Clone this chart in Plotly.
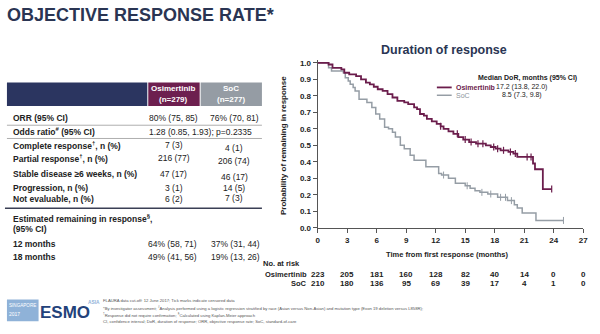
import numpy as np
import plotly.graph_objects as go

W, H = 600, 334
FONT = "Liberation Sans, Arial, sans-serif"
NAVY = "#2b3560"
PURPLE = "#6d1f4f"
GRAY_HDR = "#959ca4"
TXT = "#222222"
OSI_C = "#6b1d4c"
SOC_C = "#959da5"

# ---------------- data ----------------
title = "OBJECTIVE RESPONSE RATE*"
arms = ["Osimertinib", "SoC"]
arm_n = ["(n=279)", "(n=277)"]
row_labels = ["ORR (95% CI)", "Odds ratio<sup>#</sup> (95% CI)",
              "Complete response<sup>†</sup>, n (%)", "Partial response<sup>†</sup>, n (%)",
              "Stable disease ≥6 weeks, n (%)", "Progression, n (%)", "Not evaluable, n (%)"]
osi_vals = ["80% (75, 85)", "", "7 (3)", "216 (77)", "47 (17)", "3 (1)", "6 (2)"]
soc_vals = ["76% (70, 81)", "", "4 (1)", "206 (74)", "46 (17)", "14 (5)", "7 (3)"]
odds_ratio_text = "1.28 (0.85, 1.93); p=0.2335"
remain_label = ["Estimated remaining in response<sup>§</sup>,", "(95% CI)"]
remain_rows = ["12 months", "18 months"]
remain_osi = ["64% (58, 71)", "49% (41, 56)"]
remain_soc = ["37% (31, 44)", "19% (13, 26)"]

km_title = "Duration of response"
legend_head = "Median DoR, months (95% CI)"
median_text = ["17.2 (13.8, 22.0)", "8.5 (7.3, 9.8)"]

osi_t = [0, 1.1, 1.5, 2.4, 2.7, 3.2, 3.9, 4.4, 4.9, 5.3, 5.7, 6.1, 6.6, 7.1, 7.6, 8.1,
         8.8, 9.2, 9.8, 10.1, 10.4, 10.8, 11.1, 11.6, 12.1, 12.5, 12.8, 13.3, 13.8,
         14.3, 14.8, 15.4, 16.1, 17.1, 17.6, 18.1, 18.6, 19.4, 19.9, 20.3, 21.9, 22.1,
         22.9, 23.8]
osi_p = [1.0, 0.99, 0.97, 0.96, 0.94, 0.93, 0.92, 0.90, 0.88, 0.87, 0.855, 0.84, 0.83,
         0.81, 0.79, 0.77, 0.76, 0.75, 0.73, 0.72, 0.69, 0.68, 0.66, 0.645, 0.63, 0.615,
         0.60, 0.585, 0.57, 0.55, 0.535, 0.52, 0.51, 0.50, 0.49, 0.48, 0.47, 0.46, 0.45,
         0.43, 0.39, 0.355, 0.235, 0.235]
soc_t = [0, 1.1, 1.4, 2.6, 2.8, 3.1, 3.3, 3.6, 3.8, 4.2, 5.0, 5.5, 5.9, 6.3, 6.8, 7.2,
         7.6, 7.9, 8.4, 8.8, 9.4, 9.8, 11.0, 12.3, 12.6, 13.3, 14.0, 15.0, 15.5, 16.0,
         16.5, 17.3, 18.3, 19.3, 20.0, 20.3, 20.8, 22.2, 25.0]
soc_p = [1.0, 0.97, 0.95, 0.94, 0.91, 0.89, 0.87, 0.85, 0.83, 0.78, 0.76, 0.73, 0.69,
         0.66, 0.61, 0.60, 0.58, 0.55, 0.50, 0.48, 0.44, 0.41, 0.37, 0.33, 0.32, 0.30,
         0.27, 0.255, 0.24, 0.225, 0.215, 0.205, 0.185, 0.165, 0.14, 0.12, 0.09, 0.045,
         0.045]
osi_cens = [12.5, 14.2, 15.0, 15.6, 16.3, 16.8, 17.9, 18.3, 18.9, 19.6, 20.1, 21.3, 21.7, 23.8]
soc_cens = [12.8, 15.2, 16.7, 17.6, 18.6, 19.1, 19.7, 25.0]

x_ticks = [0, 3, 6, 9, 12, 15, 18, 21, 24, 27]
y_ticks = [0.0, 0.1, 0.2, 0.3, 0.4, 0.5, 0.6, 0.7, 0.8, 0.9, 1.0]
x_title = "Time from first response (months)"
y_title = "Probability of remaining in response"
risk_times = [0, 3, 6, 9, 12, 15, 18, 21, 24, 27]
osi_risk = [223, 205, 181, 160, 128, 82, 40, 14, 0, 0]
soc_risk = [210, 180, 136, 95, 69, 39, 17, 4, 1, 0]

footnotes = [
    "FLAURA data cut-off: 12 June 2017; Tick marks indicate censored data",
    "*By investigator assessment; <sup>#</sup>Analysis performed using a logistic regression stratified by race (Asian versus Non-Asian) and mutation type (Exon 19 deletion versus L858R);",
    "<sup>†</sup>Response did not require confirmation; <sup>§</sup>Calculated using Kaplan-Meier approach",
    "CI, confidence interval; DoR, duration of response; ORR, objective response rate; SoC, standard-of-care",
]


def px(x):
    return x / W


def py(y):
    return 1 - y / H


def step_at(ts, ps, t):
    ts = np.asarray(ts)
    ps = np.asarray(ps)
    i = np.searchsorted(ts, t, side="right") - 1
    return ps[i]


fig = go.Figure()

fig.add_trace(go.Scatter(x=soc_t, y=soc_p, mode="lines", line_shape="hv",
                         line=dict(color=SOC_C, width=1.5), showlegend=False, hoverinfo="skip"))
fig.add_trace(go.Scatter(x=osi_t, y=osi_p, mode="lines", line_shape="hv",
                         line=dict(color=OSI_C, width=1.8), showlegend=False, hoverinfo="skip"))
fig.add_trace(go.Scatter(x=soc_cens, y=[step_at(soc_t, soc_p, t) for t in soc_cens], mode="markers",
                         marker=dict(symbol="line-ns", size=5, line=dict(width=1, color=SOC_C)),
                         showlegend=False, hoverinfo="skip", cliponaxis=False))
fig.add_trace(go.Scatter(x=osi_cens, y=[step_at(osi_t, osi_p, t) for t in osi_cens], mode="markers",
                         marker=dict(symbol="line-ns", size=5, line=dict(width=1.2, color=OSI_C)),
                         showlegend=False, hoverinfo="skip", cliponaxis=False))

annotations = []


def txt(s, x, y, size=9, color=TXT, bold=False, anchor="left", yanchor="middle",
        xref="paper", angle=0, family=FONT):
    annotations.append(dict(
        text=f"<b>{s}</b>" if bold else s,
        x=px(x) if xref == "paper" else x, y=py(y), xref=xref, yref="paper",
        xanchor=anchor, yanchor=yanchor, showarrow=False, textangle=angle,
        font=dict(size=size, color=color, family=family), borderpad=0))


shapes = []


def rect(x0, y0, x1, y1, color):
    shapes.append(dict(type="rect", xref="paper", yref="paper", x0=px(x0), x1=px(x1),
                       y0=py(y1), y1=py(y0), fillcolor=color, line=dict(width=0), layer="below"))


def hline(x0, x1, y, color, width):
    shapes.append(dict(type="line", xref="paper", yref="paper", x0=px(x0), x1=px(x1),
                       y0=py(y), y1=py(y), line=dict(color=color, width=width)))


# ---------- title ----------
txt(title, 4, 14, size=18, color="#2a3553", bold=True)

# ---------- table ----------
rect(5, 83, 147, 107, NAVY)
rect(148, 83, 200, 107, PURPLE)
rect(201, 83, 263, 107, GRAY_HDR)
col_x = [174, 232]
for i, (a, n) in enumerate(zip(arms, arm_n)):
    txt(a, col_x[i], 89, size=8, color="white", bold=True, anchor="center")
    txt(n, col_x[i], 100, size=8, color="white", bold=True, anchor="center")

row_y = [119, 133, 147, 160, 176, 190, 202]
soc_dy = [0, 0, 3, 3, 3, 0, -1]
for lab, ov, sv, y, dy in zip(row_labels, osi_vals, soc_vals, row_y, soc_dy):
    txt(lab, 10, y, size=8.5, bold=True)
    if ov:
        txt(ov, 174, y, size=8.5, anchor="center")
    if sv:
        txt(sv, 235, y + dy, size=8.5, anchor="center")
txt(odds_ratio_text, 201, row_y[1], size=8.5, anchor="center")
hline(5, 263, 126.5, "#9a9a9a", 0.8)
hline(5, 263, 140, "#9a9a9a", 0.8)
hline(3, 263, 211, "#3a3f55", 1.6)

txt(remain_label[0], 10, 221, size=8.5, bold=True)
txt(remain_label[1], 10, 232, size=8.5, bold=True)
for lab, ov, sv, y in zip(remain_rows, remain_osi, remain_soc, [247, 261]):
    txt(lab, 10, y, size=8.5, bold=True)
    txt(ov, 173, y, size=8.5, anchor="center")
    txt(sv, 236, y, size=8.5, anchor="center")

# ---------- KM titles / legend ----------
txt(km_title, 447, 50, size=12.5, color="#2a3553", bold=True, anchor="center")
txt(y_title, 285, 147, size=8, bold=True, anchor="center", angle=-90)
txt(x_title, 450, 258, size=7.5, bold=True, anchor="center")
txt(legend_head, 583, 78, size=7, bold=True, anchor="right")
txt(arms[0], 458, 88, size=7, color=OSI_C, bold=True)
txt(median_text[0], 499, 88, size=7)
txt(arms[1], 458, 96, size=7, color="#8d959d")
txt(median_text[1], 505, 96, size=7)
hline(440, 455, 88, OSI_C, 1.8)
hline(440, 455, 96, SOC_C, 1.5)

# ---------- number at risk ----------
txt("No. at risk", 303, 267, size=7.5, bold=True, anchor="right")
txt(arms[0], 310, 278, size=7.5, bold=True, anchor="right")
txt(arms[1], 310, 288, size=7.5, bold=True, anchor="right")
for t, a, b in zip(risk_times, osi_risk, soc_risk):
    txt(str(a), t, 278, size=8, bold=True, anchor="center", xref="x")
    txt(str(b), t, 288, size=8, bold=True, anchor="center", xref="x")

# ---------- footer ----------
rect(5, 304, 37, 326, "#8fb2d8")
txt("SINGAPORE", 6.5, 310, size=4.6, color="white")
txt("2017", 6.5, 319, size=5, color="white")
txt("ESMO", 37, 317, size=17, color="#23427a", bold=True)
txt("ASIA", 86, 307, size=4.8, color="#8fb2d8", bold=True)
for s, y in zip(footnotes, [305, 312.5, 319.5, 326.5]):
    txt(s, 101, y, size=4.2, color="#555555")

fig.update_layout(
    width=W, height=H, margin=dict(l=0, r=0, t=0, b=0),
    paper_bgcolor="white", plot_bgcolor="white",
    font=dict(family=FONT, color=TXT),
    annotations=annotations, shapes=shapes,
    xaxis=dict(domain=[px(319.5), px(588)], range=[0, 27], showgrid=False, zeroline=False,
               showline=True, linecolor="#555555", linewidth=1.3, ticks="outside", ticklen=4,
               tickwidth=1.2, tickcolor="#555555", tickvals=x_ticks,
               ticktext=[f"<b>{v}</b>" for v in x_ticks], tickfont=dict(size=8, color=TXT)),
    yaxis=dict(domain=[py(231), py(59.6)], range=[0, 1.02], showgrid=False, zeroline=False,
               showline=True, linecolor="#555555", linewidth=1.3, ticks="outside", ticklen=4,
               tickwidth=1.2, tickcolor="#555555", tickvals=y_ticks,
               ticktext=[f"<b>{v:.1f}</b>" for v in y_ticks], tickfont=dict(size=8, color=TXT)),
)

fig.write_html("out.html")
